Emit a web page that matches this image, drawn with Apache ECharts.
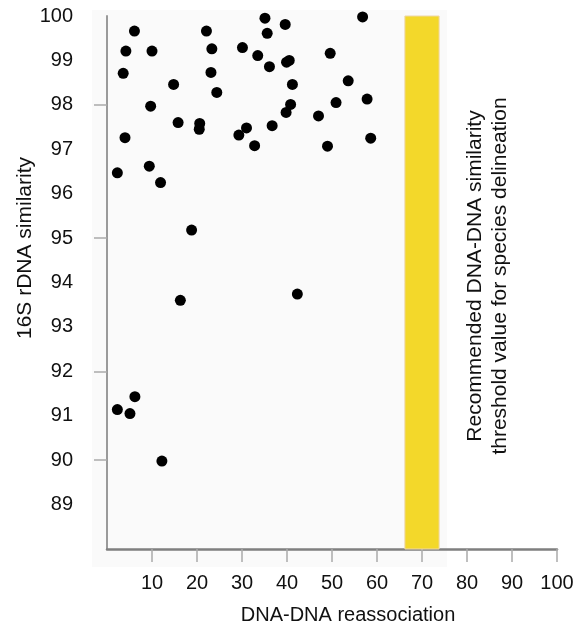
<!DOCTYPE html>
<html>
<head>
<meta charset="utf-8">
<script src="https://cdn.jsdelivr.net/npm/echarts@6/dist/echarts.min.js"></script>
<style>
html,body{margin:0;padding:0;background:#fff;}
#chart{width:586px;height:624px;}
</style>
</head>
<body>
<div id="chart"></div>
<script>
// DNA-DNA reassociation (%) for each strain pair
var dnaReassociation = [6.1, 4.2, 3.6, 10.0, 9.7, 4.0, 2.3, 9.4, 11.9, 14.8, 15.8, 18.8, 16.3, 20.6, 20.5,
  22.1, 23.3, 23.1, 24.4, 30.1, 29.3, 31.0, 32.8, 33.5, 35.1, 35.6, 36.1, 36.7, 39.6, 39.9, 40.5,
  41.2, 40.8, 39.8, 42.3, 56.8, 49.6, 53.6, 57.8, 50.9, 47.0, 58.6, 49.0, 2.3, 5.1, 6.2, 12.2];
// 16S rDNA similarity (%) for the same pairs
var rDNA16S = [99.66, 99.21, 98.71, 99.21, 97.97, 97.26, 96.47, 96.62, 96.25, 98.46, 97.60, 95.18, 93.60, 97.58, 97.45,
  99.66, 99.26, 98.73, 98.28, 99.29, 97.32, 97.48, 97.08, 99.11, 99.95, 99.61, 98.86, 97.53, 99.81, 98.96, 99.00,
  98.46, 98.01, 97.83, 93.74, 99.98, 99.16, 98.54, 98.13, 98.05, 97.75, 97.25, 97.07, 91.14, 91.05, 91.43, 89.98];
// recommended threshold band (DNA-DNA reassociation %)
var thresholdBand = [66.2, 73.8];
var xTickLabels = [10, 20, 30, 40, 50, 60, 70, 80, 90, 100];
var yTickLabels = [89, 90, 91, 92, 93, 94, 95, 96, 97, 98, 99, 100];
var yTickMarks = [90, 92, 95, 98];

var points = dnaReassociation.map(function (x, i) { return [x, rDNA16S[i]]; });
var FONT = '"Liberation Sans", Arial, Helvetica, sans-serif';

var chart = echarts.init(document.getElementById('chart'), null, {renderer: 'canvas'});
chart.setOption({
  animation: false,
  backgroundColor: '#ffffff',
  grid: {left: 107, right: 29, top: 16, bottom: 75, containLabel: false},
  xAxis: {
    type: 'value', min: 0, max: 100,
    axisLine: {show: true, lineStyle: {color: '#7f7f7f', width: 2.5}},
    axisTick: {show: true, inside: false, length: 13, customValues: xTickLabels, lineStyle: {color: '#aaaaaa', width: 1.5}},
    axisLabel: {show: true, customValues: xTickLabels, margin: 24, fontSize: 20, color: '#111111', fontFamily: FONT},
    splitLine: {show: false}
  },
  yAxis: {
    type: 'value', min: 88, max: 100,
    axisLine: {show: true, lineStyle: {color: '#9a9a9a', width: 2}},
    axisTick: {show: true, inside: false, length: 13, customValues: yTickMarks, lineStyle: {color: '#aaaaaa', width: 1.5}},
    axisLabel: {show: true, customValues: yTickLabels, margin: 34, fontSize: 20, color: '#111111', fontFamily: FONT},
    splitLine: {show: false}
  },
  graphic: [
    {type: 'rect', z: -10, silent: true, shape: {x: 92, y: 10, width: 355, height: 557}, style: {fill: '#fafafa'}},
    {type: 'text', x: 25, y: 248, rotation: Math.PI / 2, style: {text: '16S rDNA similarity', font: '21px ' + FONT, fill: '#111111', textAlign: 'center', textVerticalAlign: 'middle'}},
    {type: 'text', x: 348, y: 615, style: {text: 'DNA-DNA reassociation', font: '20px ' + FONT, fill: '#111111', textAlign: 'center', textVerticalAlign: 'middle'}},
    {type: 'text', x: 475, y: 276, rotation: Math.PI / 2, style: {text: 'Recommended DNA-DNA similarity', font: '21px ' + FONT, fill: '#111111', textAlign: 'center', textVerticalAlign: 'middle'}},
    {type: 'text', x: 500, y: 276, rotation: Math.PI / 2, style: {text: 'threshold value for species delineation', font: '21px ' + FONT, fill: '#111111', textAlign: 'center', textVerticalAlign: 'middle'}}
  ],
  series: [{
    type: 'scatter',
    data: points,
    symbol: 'circle',
    symbolSize: 11,
    itemStyle: {color: '#000000', opacity: 1},
    markArea: {
      silent: true,
      itemStyle: {color: '#f3d82a', opacity: 1, borderColor: '#eed7a8', borderWidth: 1},
      data: [[{xAxis: thresholdBand[0], yAxis: 88}, {xAxis: thresholdBand[1], yAxis: 100}]]
    }
  }]
});
</script>
</body>
</html>
